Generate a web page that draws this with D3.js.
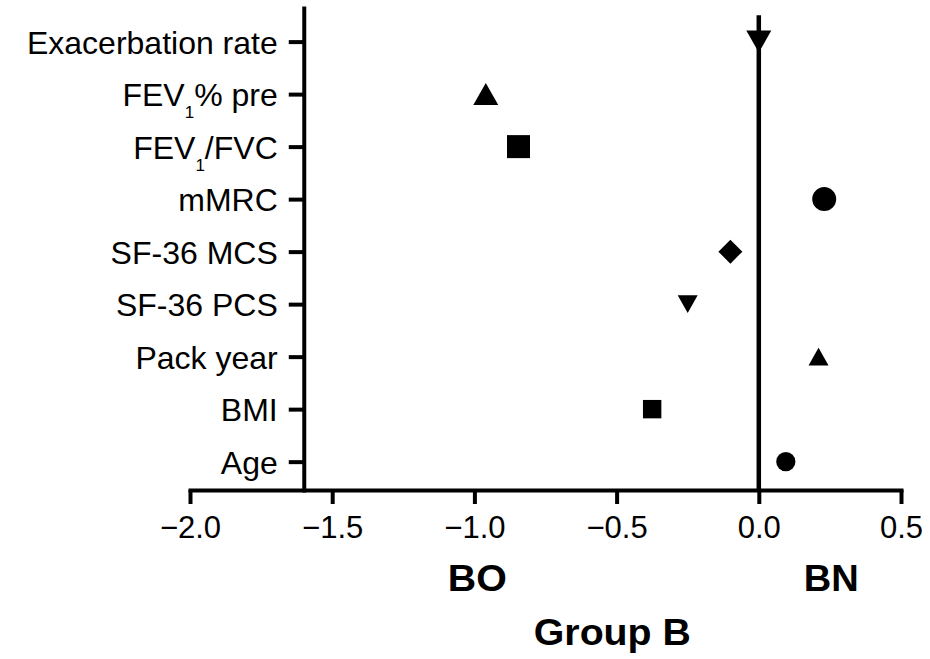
<!DOCTYPE html>
<html>
<head>
<meta charset="utf-8">
<script src="https://cdn.jsdelivr.net/npm/d3@7"></script>
<style>
  html, body { margin: 0; padding: 0; background: #fff; }
  svg { display: block; }
  text { font-family: "Liberation Sans", Arial, Helvetica, sans-serif; fill: #000; }
</style>
</head>
<body>
<svg id="chart" width="930" height="659"></svg>
<script>
// Rows, top to bottom ("_1" marks a subscript 1)
const categories = ["Exacerbation rate", "FEV_1% pre", "FEV_1/FVC", "mMRC", "SF-36 MCS", "SF-36 PCS", "Pack year", "BMI", "Age"];
// Discriminant coefficient for each row
const values = [0.0, -0.96, -0.845, 0.23, -0.10, -0.25, 0.21, -0.375, 0.095];
// Marker shape for each row
const markers = ["triangleDown", "triangleUp", "square", "circle", "diamond", "triangleDown", "triangleUp", "square", "circle"];
// X-axis ticks
const xTicks = [-2.0, -1.5, -1.0, -0.5, 0.0, 0.5];
// Group names under the axis
const sideNames = ["BO", "BN"];
const groupTitle = "Group B";

const svg = d3.select("#chart");

const x = d3.scaleLinear().domain([-2, 0.5]).range([190, 901]);
// rows are numbered 9 (top) .. 1 (bottom)
const rowOf = i => categories.length - i;
const y = d3.scaleLinear().domain([0.46, 9.64]).range([490, 8]);

const AXIS_W = 4;

// Zero reference line
svg.append("line")
  .attr("x1", x(0)).attr("x2", x(0))
  .attr("y1", y(9.5)).attr("y2", y(0.46))
  .attr("stroke", "#000").attr("stroke-width", 4.5);

// X axis
const xAxis = svg.append("g")
  .attr("transform", `translate(0,${y(0.46)})`)
  .call(d3.axisBottom(x).tickValues(xTicks).tickFormat(d3.format(".1f"))
    .tickSize(14).tickPadding(12).tickSizeOuter(0));
xAxis.select(".domain").attr("stroke-width", AXIS_W).attr("stroke-linecap", "square");
xAxis.selectAll(".tick line").attr("stroke-width", AXIS_W);
xAxis.selectAll(".tick text").style("font-size", "31px").attr("fill", "#000");

// Y axis crossing at x = -1.6
const yAxis = svg.append("g")
  .attr("transform", `translate(${x(-1.6)},0)`)
  .call(d3.axisLeft(y).tickValues(categories.map((c, i) => rowOf(i)))
    .tickFormat("").tickSize(15).tickPadding(11).tickSizeOuter(0));
yAxis.select(".domain").attr("stroke-width", AXIS_W).attr("stroke-linecap", "square");
yAxis.selectAll(".tick line").attr("stroke-width", AXIS_W);

// Row labels with subscripts
yAxis.selectAll(".tick text").each(function (d) {
  const label = categories[categories.length - d];
  const t = d3.select(this).text(null)
    .attr("x", -26).attr("dy", "0.36em")
    .style("font-size", "32px").attr("text-anchor", "end").attr("fill", "#000");
  const parts = label.split("_1");
  parts.forEach((p, k) => {
    if (k > 0) {
      t.append("tspan").attr("dy", 12).style("font-size", "17px").text("1");
      t.append("tspan").attr("dy", -12).text(p);
    } else {
      t.append("tspan").text(p);
    }
  });
});

// Marker shapes, sized by width in px
const shapes = {
  triangleUp: { draw(p, s) { const h = s * 0.88; p.moveTo(0, -h / 2); p.lineTo(s / 2, h / 2); p.lineTo(-s / 2, h / 2); p.closePath(); } },
  triangleDown: { draw(p, s) { const h = s * 0.88; p.moveTo(0, h / 2); p.lineTo(s / 2, -h / 2); p.lineTo(-s / 2, -h / 2); p.closePath(); } },
  square: { draw(p, s) { const a = s * 0.92; p.rect(-a / 2, -a / 2, a, a); } },
  circle: { draw(p, s) { const r = s * 0.48; p.moveTo(r, 0); p.arc(0, 0, r, 0, 2 * Math.PI); } },
  diamond: { draw(p, s) { const r = s * 0.6; p.moveTo(0, -r); p.lineTo(r, 0); p.lineTo(0, r); p.lineTo(-r, 0); p.closePath(); } }
};

// Spirometry / symptom rows use larger markers
const markerWidth = i => (i < 4 ? 25 : 20);

svg.append("g").selectAll("path")
  .data(values)
  .join("path")
  .attr("transform", (v, i) => `translate(${x(v)},${y(rowOf(i))})`)
  .attr("d", (v, i) => d3.symbol().type(shapes[markers[i]]).size(markerWidth(i))())
  .attr("fill", "#000");

// Group labels
const bold = (txt, xv, yy, len) => svg.append("text")
  .attr("x", x(xv)).attr("y", yy)
  .attr("text-anchor", "middle")
  .attr("textLength", len).attr("lengthAdjust", "spacingAndGlyphs")
  .style("font-size", "36px").style("font-weight", "bold")
  .text(txt);

bold(sideNames[0], -0.99, 591, 59);
bold(sideNames[1], 0.255, 591, 55);
bold(groupTitle, -0.515, 645, 157);
</script>
</body>
</html>
